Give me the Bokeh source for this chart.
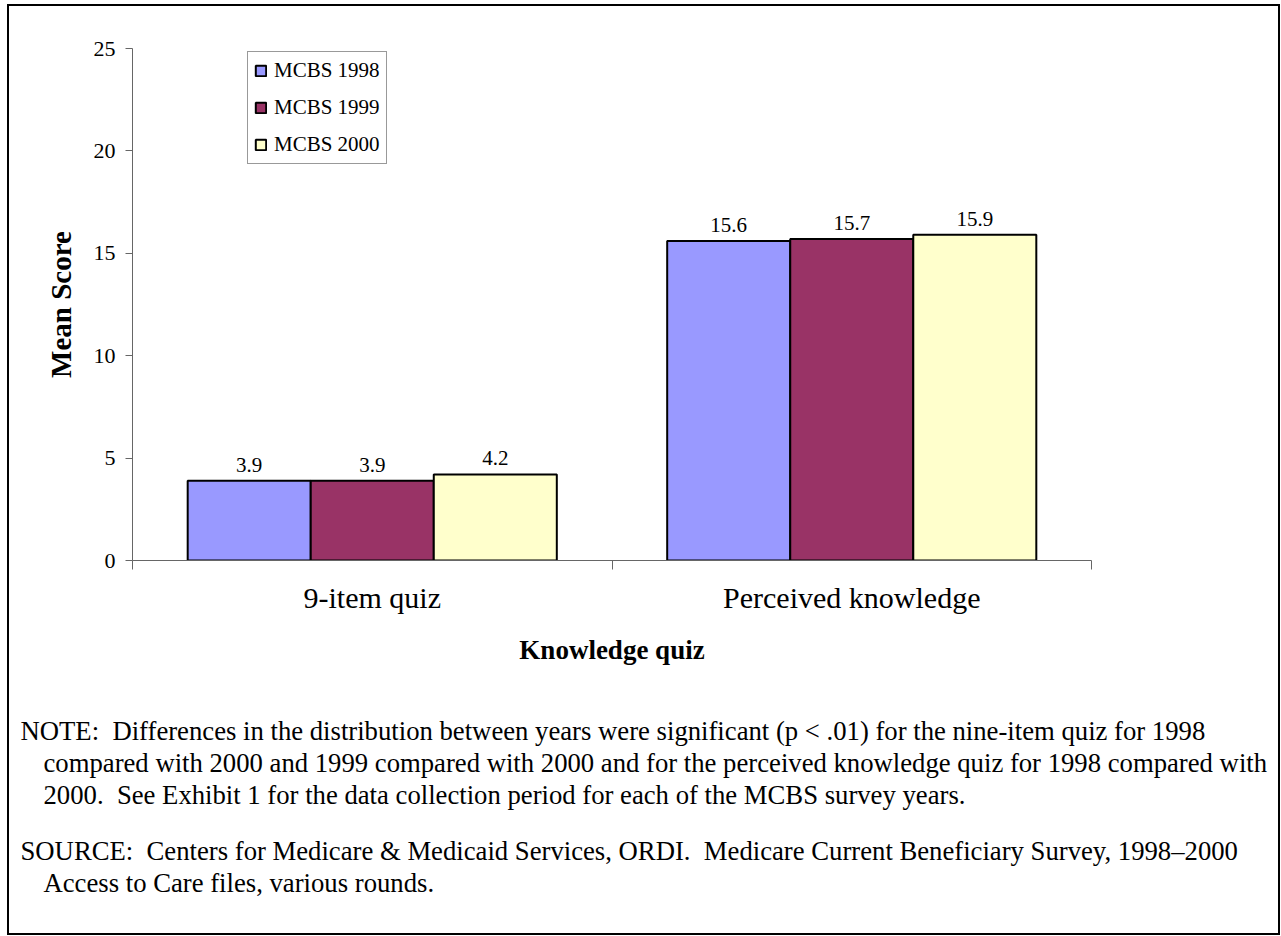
from bokeh.plotting import figure
from bokeh.models import (Range1d, FixedTicker, LinearAxis, Legend, LegendItem, Title,
                          ColumnDataSource, InlineStyleSheet)
from bokeh.core.properties import value
from bokeh.embed import file_html
from bokeh.resources import INLINE

# ---------------- data ----------------
categories = ["9-item quiz", "Perceived knowledge"]
series_names = ["MCBS 1998", "MCBS 1999", "MCBS 2000"]
mcbs_1998 = [3.9, 15.6]
mcbs_1999 = [3.9, 15.7]
mcbs_2000 = [4.2, 15.9]
series_values = [mcbs_1998, mcbs_1999, mcbs_2000]
series_colors = ["#9999FF", "#993366", "#FFFFCC"]
y_ticks = [0, 5, 10, 15, 20, 25]

note_lines = [
    "NOTE:\u00a0 Differences in the distribution between years were significant (p < .01) for the nine-item quiz for 1998",
    "compared with 2000 and 1999 compared with 2000 and for the perceived knowledge quiz for 1998 compared with",
    "2000.\u00a0 See Exhibit 1 for the data collection period for each of the MCBS survey years.",
]
source_lines = [
    "SOURCE:\u00a0 Centers for Medicare & Medicaid Services, ORDI.\u00a0 Medicare Current Beneficiary Survey, 1998\u20132000",
    "Access to Care files, various rounds.",
]

# ---------------- layout constants ----------------
W, H = 1281, 936
FL, FR, FT, FB = 132, 1091, 48, 560
NCAT = len(categories)
FONT = "Liberation Serif"
AXIS_COLOR = "#666666"
NOTE_SIZE = "26.7px"

p = figure(width=W, height=H, x_range=Range1d(0, NCAT), y_range=Range1d(0, 25),
           output_backend="svg", toolbar_location=None,
           min_border_left=FL, min_border_right=W - FR,
           min_border_top=FT, min_border_bottom=H - FB)
p.outline_line_color = None
p.grid.visible = False
p.background_fill_color = "white"
p.border_fill_color = "white"

# outer border round the whole picture
p.stylesheets = [InlineStyleSheet(css=(
    ":host::after { content: ''; position: absolute; left: 7px; top: 4px; "
    "width: 1273px; height: 931px; border: 2px solid black; box-sizing: border-box; "
    "pointer-events: none; }"))]

# y axis
ya = p.yaxis[0]
ya.ticker = FixedTicker(ticks=y_ticks)
ya.minor_tick_line_color = None
ya.major_tick_in = 0
ya.major_tick_out = 7
ya.axis_line_color = AXIS_COLOR
ya.major_tick_line_color = AXIS_COLOR
ya.major_label_text_font = FONT
ya.major_label_text_font_size = "22px"
ya.major_label_text_color = "black"
ya.major_label_standoff = 10
ya.axis_label = "Mean Score"
ya.axis_label_text_font = FONT
ya.axis_label_text_font_size = "29px"
ya.axis_label_text_font_style = "bold"
ya.axis_label_text_color = "black"
ya.axis_label_standoff = 14

# x axis: ticks at the category boundaries
xa = p.xaxis[0]
xa.ticker = FixedTicker(ticks=list(range(NCAT + 1)))
xa.major_tick_in = 0
xa.major_tick_out = 9
xa.minor_tick_line_color = None
xa.axis_line_color = AXIS_COLOR
xa.major_tick_line_color = AXIS_COLOR
xa.major_label_text_font_size = "0px"
xa.major_label_standoff = 0
xa.major_label_overrides = {i: "" for i in range(NCAT + 1)}

# x axis: category names at the category centres + axis title
centers = [i + 0.5 for i in range(NCAT)]
ca = LinearAxis(ticker=FixedTicker(ticks=centers),
                major_label_overrides={c: name for c, name in zip(centers, categories)},
                axis_line_color=None, major_tick_line_color=None,
                minor_tick_line_color=None, major_tick_in=0, major_tick_out=0,
                major_label_text_font=FONT, major_label_text_font_size="30px",
                major_label_text_color="black", major_label_standoff=11,
                axis_label="Knowledge quiz", axis_label_text_font=FONT,
                axis_label_text_font_size="27px", axis_label_text_font_style="bold",
                axis_label_text_color="black", axis_label_standoff=18)
p.add_layout(ca, "below")

# bars
bw = 0.2566
renderers = []
for j, (name, vals, col) in enumerate(zip(series_names, series_values, series_colors)):
    xs = [c + (j - 1) * bw for c in centers]
    src = ColumnDataSource(dict(x=xs, top=vals, lab=[f"{v:.1f}" for v in vals]))
    r = p.vbar(x="x", top="top", width=bw, bottom=0, source=src,
               fill_color=col, line_color="black", line_width=2)
    renderers.append(r)
    p.text(x="x", y="top", text="lab", source=src, y_offset=-16,
           text_align="center", text_baseline="alphabetic",
           text_font=value(FONT), text_font_size="21px", text_color="black")

legend = Legend(items=[LegendItem(label=n, renderers=[r]) for n, r in zip(series_names, renderers)],
                location=(115, 396), orientation="vertical",
                label_text_font=FONT, label_text_font_size="21px", label_text_color="black",
                glyph_width=13, glyph_height=13, label_standoff=7,
                padding=6, spacing=12, label_height=24,
                border_line_color="#333333", border_line_width=1,
                background_fill_color="white", background_fill_alpha=1)
p.add_layout(legend)


# notes below the chart (stacked titles; small blank titles give the gaps)
def spacer(gap):
    p.add_layout(Title(text="\u00a0", standoff=gap, text_font=FONT,
                       text_font_size="10px", text_color="white"), "below")


def note(line, indent):
    p.add_layout(Title(text=line, align="left", offset=indent - FL, standoff=0,
                       text_font=FONT, text_font_size=NOTE_SIZE, text_font_style="normal",
                       text_color="black"), "below")


spacer(33)
for k, line in enumerate(note_lines):
    note(line, 20 if k == 0 else 43)
spacer(11)
for k, line in enumerate(source_lines):
    note(line, 20 if k == 0 else 43)

open("out.html", "w").write(file_html(p, INLINE))
